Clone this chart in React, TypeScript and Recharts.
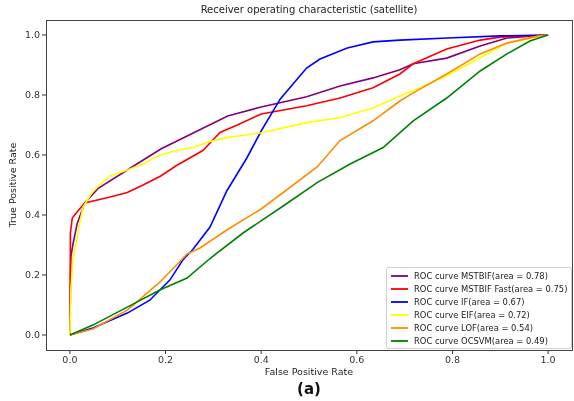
import React from "react";
import { LineChart, Line, XAxis, YAxis } from "recharts";

// ROC points (false positive rate / true positive rate)
const mstbifFpr = [0, 0.002, 0.006, 0.015, 0.031, 0.06, 0.12, 0.19, 0.26, 0.33, 0.4, 0.495, 0.565, 0.634, 0.69, 0.718, 0.788, 0.858, 0.914, 1];
const mstbifTpr = [0, 0.26, 0.3, 0.37, 0.44, 0.49, 0.55, 0.62, 0.675, 0.73, 0.76, 0.794, 0.83, 0.857, 0.884, 0.904, 0.923, 0.963, 0.99, 1];

const fastFpr = [0, 0.001, 0.005, 0.015, 0.031, 0.084, 0.12, 0.153, 0.19, 0.223, 0.278, 0.314, 0.35, 0.4, 0.495, 0.565, 0.634, 0.69, 0.718, 0.788, 0.858, 0.9, 1];
const fastTpr = [0, 0.34, 0.39, 0.41, 0.44, 0.46, 0.475, 0.5, 0.53, 0.565, 0.615, 0.675, 0.7, 0.737, 0.764, 0.79, 0.824, 0.87, 0.904, 0.953, 0.983, 0.993, 1];

const ifFpr = [0, 0.048, 0.12, 0.167, 0.209, 0.236, 0.257, 0.293, 0.328, 0.37, 0.4, 0.44, 0.495, 0.523, 0.58, 0.634, 0.69, 0.79, 0.9, 1];
const ifTpr = [0, 0.023, 0.073, 0.116, 0.183, 0.25, 0.285, 0.36, 0.48, 0.59, 0.68, 0.787, 0.89, 0.92, 0.957, 0.977, 0.983, 0.99, 0.997, 1];

const eifFpr = [0, 0.002, 0.006, 0.027, 0.048, 0.084, 0.12, 0.153, 0.188, 0.224, 0.257, 0.293, 0.328, 0.4, 0.495, 0.565, 0.634, 0.69, 0.718, 0.788, 0.858, 0.914, 1];
const eifTpr = [0, 0.15, 0.25, 0.425, 0.48, 0.53, 0.55, 0.57, 0.6, 0.615, 0.625, 0.645, 0.658, 0.674, 0.708, 0.725, 0.757, 0.797, 0.814, 0.864, 0.924, 0.973, 1];

const lofFpr = [0, 0.048, 0.12, 0.188, 0.245, 0.272, 0.328, 0.4, 0.446, 0.517, 0.565, 0.634, 0.69, 0.718, 0.788, 0.858, 0.914, 0.98, 1];
const lofTpr = [0, 0.02, 0.083, 0.176, 0.27, 0.29, 0.35, 0.42, 0.475, 0.56, 0.648, 0.714, 0.78, 0.807, 0.87, 0.937, 0.973, 0.997, 1];

const ocsvmFpr = [0, 0.048, 0.12, 0.188, 0.245, 0.293, 0.362, 0.446, 0.517, 0.586, 0.655, 0.718, 0.788, 0.858, 0.914, 0.962, 1];
const ocsvmTpr = [0, 0.033, 0.093, 0.15, 0.19, 0.255, 0.34, 0.43, 0.508, 0.57, 0.625, 0.714, 0.79, 0.88, 0.937, 0.98, 1];

const seriesNames = [
  "ROC curve MSTBIF(area = 0.78)",
  "ROC curve MSTBIF Fast(area = 0.75)",
  "ROC curve IF(area = 0.67)",
  "ROC curve EIF(area = 0.72)",
  "ROC curve LOF(area = 0.54)",
  "ROC curve OCSVM(area = 0.49)",
];
const seriesColors = ["#800080", "#ff0000", "#0000ff", "#ffff00", "#ff8c00", "#008000"];
const axisTicks = [0, 0.2, 0.4, 0.6, 0.8, 1.0];

const zip = (xs: number[], ys: number[]) => xs.map((x, i) => ({ x, y: ys[i] }));

const series = [
  zip(mstbifFpr, mstbifTpr),
  zip(fastFpr, fastTpr),
  zip(ifFpr, ifTpr),
  zip(eifFpr, eifTpr),
  zip(lofFpr, lofTpr),
  zip(ocsvmFpr, ocsvmTpr),
];

const font = "'DejaVu Sans', sans-serif";
const tickStyle = { fontSize: 9.5, fill: "#333", fontFamily: font };

// plot box in pixels
const plotLeft = 46;
const plotTop = 20;
const plotRight = 572;
const plotBottom = 350;

const LegendBox = () => (
  <div
    style={{
      position: "absolute",
      left: 386,
      top: 267,
      width: 186,
      boxSizing: "border-box",
      border: "1px solid #d0d0d0",
      borderRadius: 3,
      background: "rgba(255,255,255,0.8)",
      padding: "1px 4px 1px 4px",
      fontFamily: font,
      fontSize: 8.4,
      color: "#222",
      whiteSpace: "nowrap",
    }}
  >
    {seriesNames.map((name, i) => (
      <div key={name} style={{ display: "flex", alignItems: "center", height: 13 }}>
        <svg width={17} height={4} style={{ flexShrink: 0, marginRight: 6 }}>
          <line x1={0} y1={2} x2={17} y2={2} stroke={seriesColors[i]} strokeWidth={1.8} />
        </svg>
        <span>{name}</span>
      </div>
    ))}
  </div>
);

export default function App() {
  return (
    <div style={{ position: "fixed", left: 0, top: 0, width: 574, height: 401, background: "#fff" }}>
      <div
        style={{
          position: "absolute",
          left: 0,
          width: plotLeft + plotRight,
          top: 4,
          textAlign: "center",
          fontFamily: font,
          fontSize: 10,
          color: "#222",
        }}
      >
        Receiver operating characteristic (satellite)
      </div>
      <LineChart
        width={574}
        height={401}
        margin={{ top: plotTop, right: 574 - plotRight, bottom: 401 - plotBottom - 20, left: 0 }}
      >
        <XAxis
          type="number"
          dataKey="x"
          domain={[-0.05, 1.05]}
          ticks={axisTicks}
          tickFormatter={(v: number) => v.toFixed(1)}
          allowDataOverflow
          height={20}
          axisLine={false}
          tickSize={4}
          tickLine={{ stroke: "#333" }}
          tick={tickStyle}
        />
        <YAxis
          type="number"
          dataKey="y"
          domain={[-0.05, 1.05]}
          ticks={axisTicks}
          tickFormatter={(v: number) => v.toFixed(1)}
          allowDataOverflow
          width={plotLeft}
          axisLine={false}
          tickSize={4}
          tickLine={{ stroke: "#333" }}
          tick={tickStyle}
        />
        {series.map((d, i) => (
          <Line
            key={seriesNames[i]}
            data={d}
            dataKey="y"
            name={seriesNames[i]}
            type="linear"
            stroke={seriesColors[i]}
            strokeWidth={1.6}
            dot={false}
            activeDot={false}
            isAnimationActive={false}
          />
        ))}
      </LineChart>
      <LegendBox />
      <div
        style={{
          position: "absolute",
          left: plotLeft,
          top: plotTop,
          width: plotRight - plotLeft - 1,
          height: plotBottom - plotTop - 1,
          border: "1px solid #444",
          pointerEvents: "none",
        }}
      />
      <div
        style={{
          position: "absolute",
          left: 4,
          top: (plotTop + plotBottom) / 2,
          transform: "translate(-50%, -50%) rotate(-90deg)",
          marginLeft: 8,
          fontFamily: font,
          fontSize: 9.5,
          color: "#222",
          whiteSpace: "nowrap",
        }}
      >
        True Positive Rate
      </div>
      <div
        style={{
          position: "absolute",
          left: plotLeft,
          width: plotRight - plotLeft,
          top: 366,
          textAlign: "center",
          fontFamily: font,
          fontSize: 9.5,
          color: "#222",
        }}
      >
        False Positive Rate
      </div>
      <div
        style={{
          position: "absolute",
          left: plotLeft,
          width: plotRight - plotLeft,
          top: 380,
          textAlign: "center",
          fontFamily: font,
          fontSize: 15,
          fontWeight: "bold",
          color: "#111",
        }}
      >
        (a)
      </div>
    </div>
  );
}
